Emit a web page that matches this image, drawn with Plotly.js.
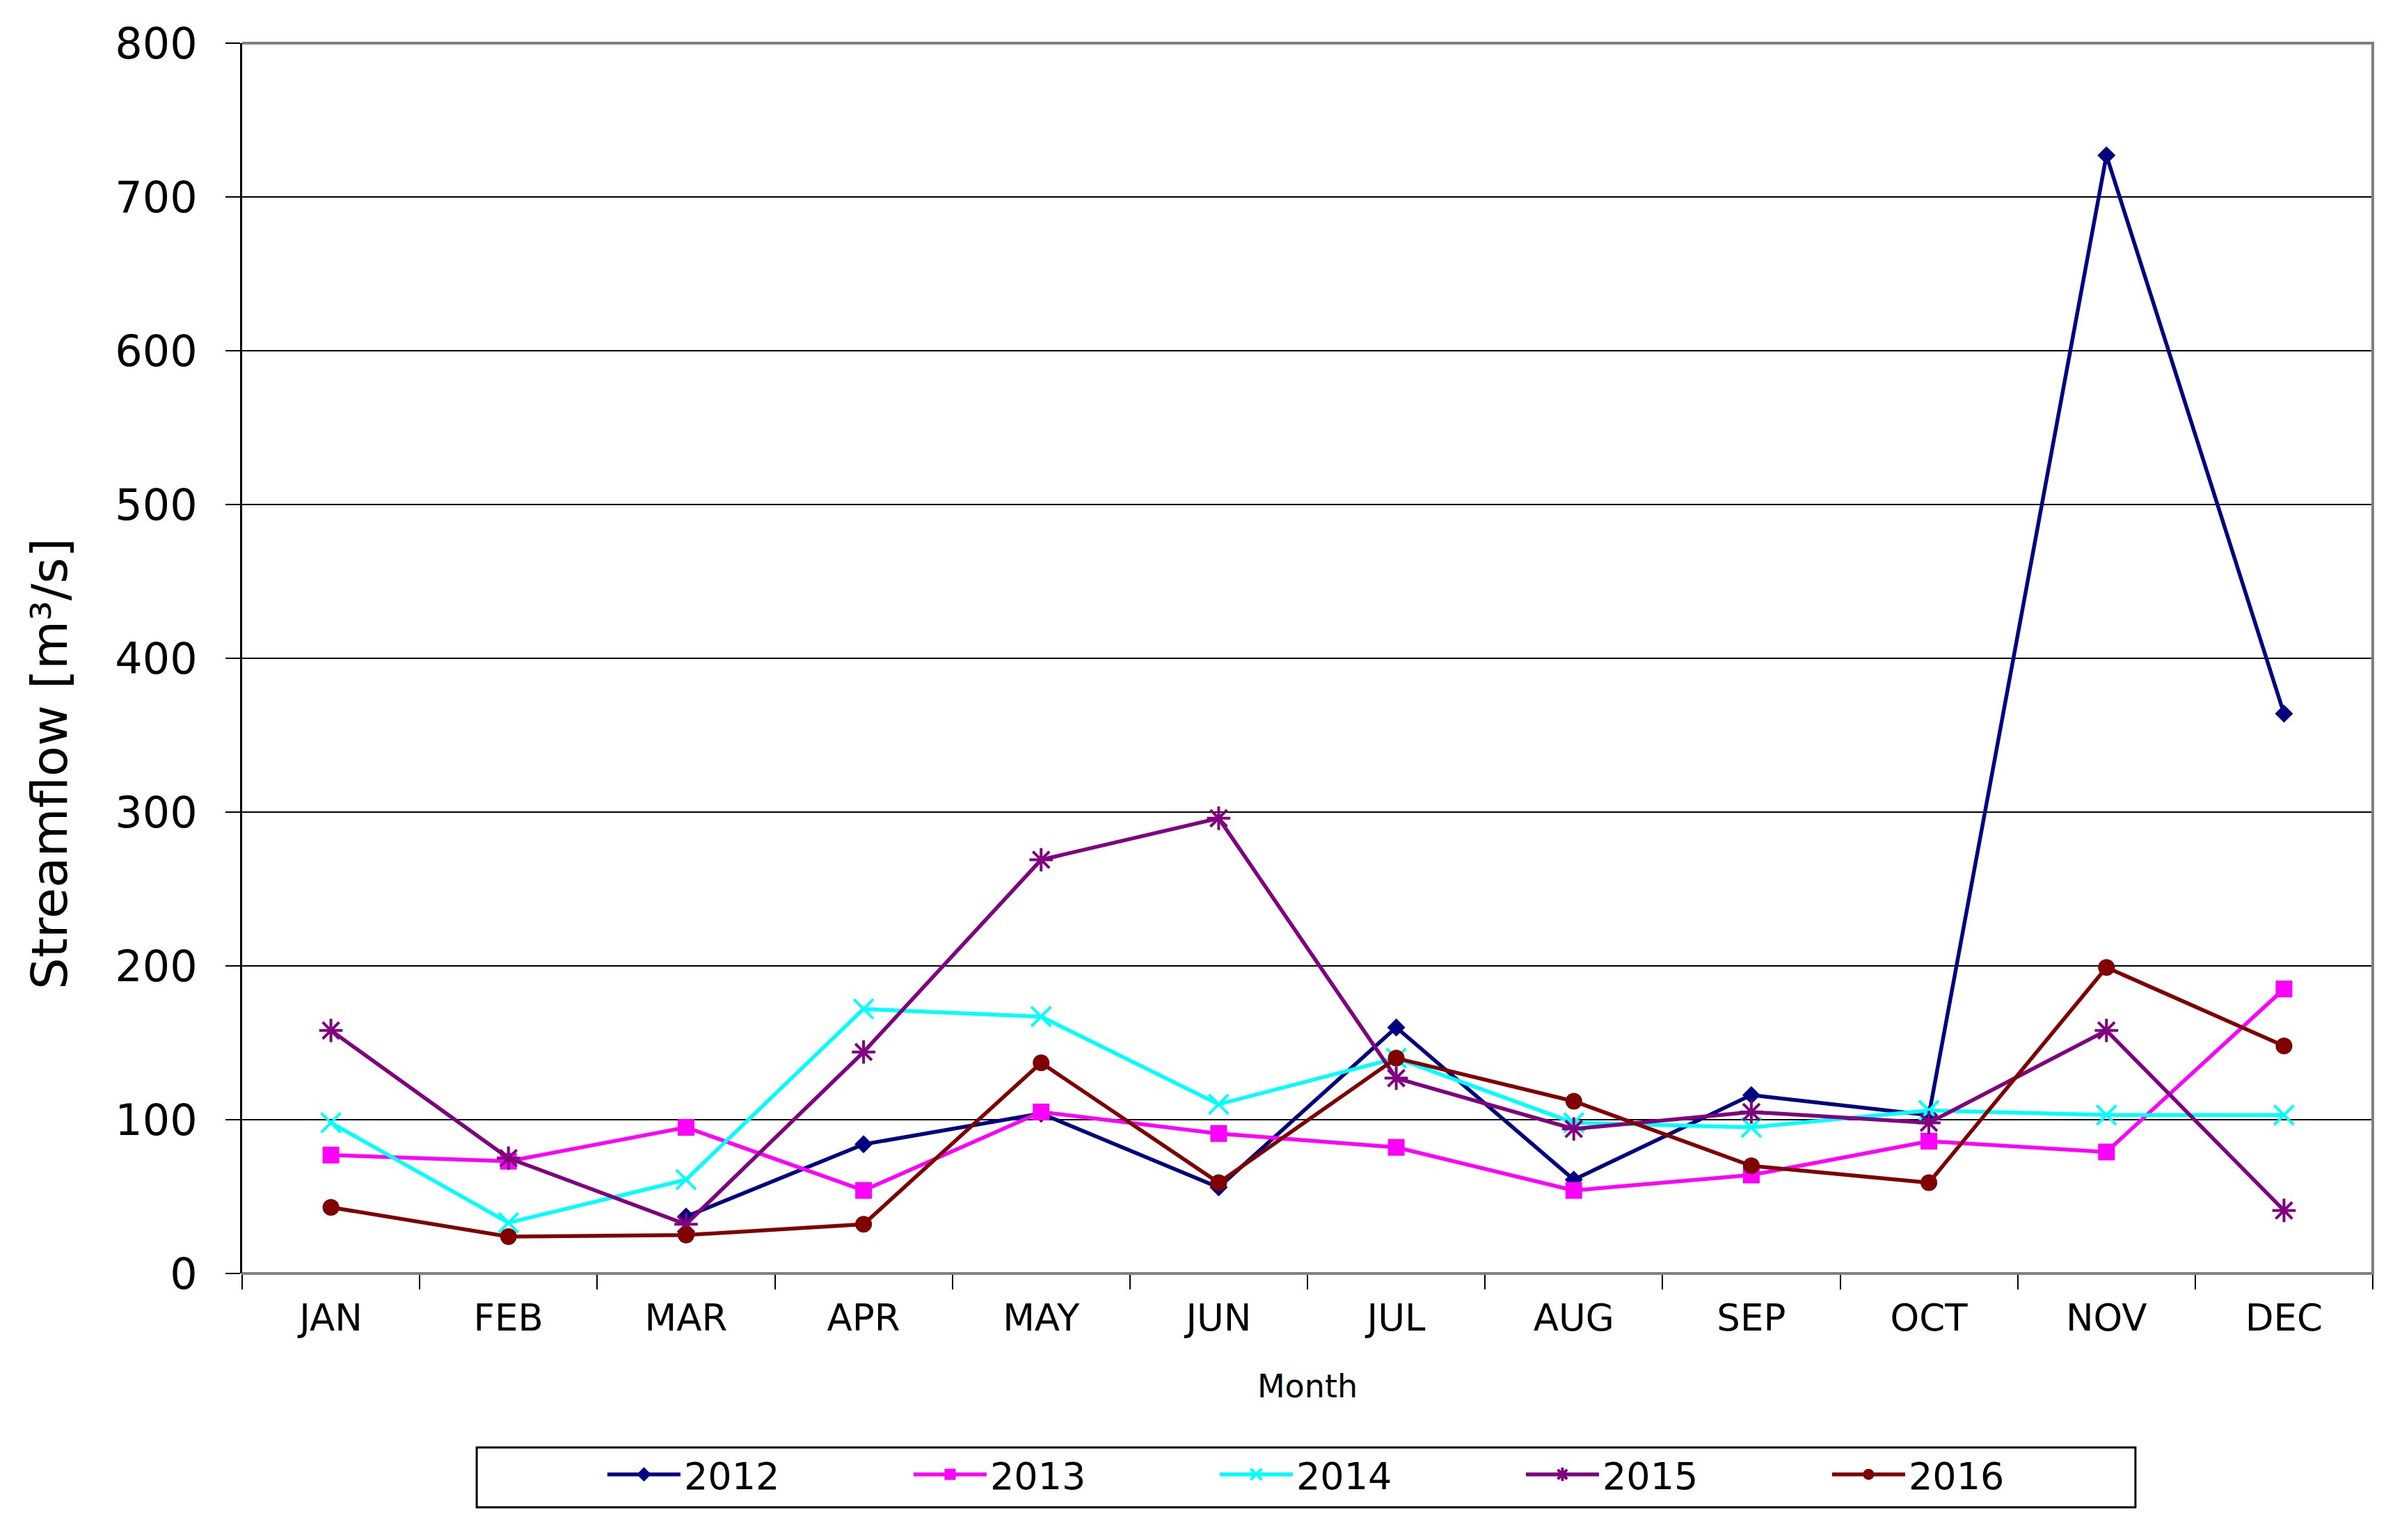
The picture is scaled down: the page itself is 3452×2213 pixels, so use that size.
<!DOCTYPE html>
<html>
<head>
<meta charset="utf-8">
<script src="https://cdn.plot.ly/plotly-3.0.1.min.js"></script>
<style>
  html, body { margin: 0; padding: 0; background: #ffffff; }
  #chart { width: 3452px; height: 2213px; }
</style>
</head>
<body>
<div id="chart"></div>
<script>
const months = ["JAN", "FEB", "MAR", "APR", "MAY", "JUN", "JUL", "AUG", "SEP", "OCT", "NOV", "DEC"];
const yTickValues = [0, 100, 200, 300, 400, 500, 600, 700, 800];

const flow2012 = [null, null, 37, 84, 104, 56, 160, 61, 116, 103, 727, 364];
const flow2013 = [77, 73, 95, 54, 105, 91, 82, 54, 64, 86, 79, 185];
const flow2014 = [98, 33, 61, 172, 167, 110, 140, 98, 95, 106, 103, 103];
const flow2015 = [158, 75, 32, 144, 269, 296, 127, 94, 105, 98, 158, 41];
const flow2016 = [43, 24, 25, 32, 137, 59, 140, 112, 70, 59, 199, 148];

const seriesNames = ["2012", "2013", "2014", "2015", "2016"];
const seriesData = [flow2012, flow2013, flow2014, flow2015, flow2016];
const seriesColors = ["#000080", "#FF00FF", "#00FFFF", "#800080", "#800000"];
const seriesSymbols = ["diamond", "square", "x-thin", "asterisk", "circle"];
const seriesSizes = [20, 24, 28, 28, 24];

const FONT = "DejaVu Sans, Verdana, sans-serif";

const traces = seriesNames.map((name, i) => {
  const thin = seriesSymbols[i] === "x-thin" || seriesSymbols[i] === "asterisk";
  return {
    type: "scatter",
    mode: "lines+markers",
    name: name,
    x: months,
    y: seriesData[i],
    connectgaps: false,
    line: { color: seriesColors[i], width: 5.5 },
    marker: {
      symbol: seriesSymbols[i],
      size: seriesSizes[i],
      color: seriesColors[i],
      line: { color: seriesColors[i], width: thin ? 4 : 0 }
    }
  };
});

const layout = {
  width: 3452,
  height: 2213,
  paper_bgcolor: "#ffffff",
  plot_bgcolor: "#ffffff",
  margin: { l: 348, r: 42, t: 62, b: 383, pad: 0 },
  font: { family: FONT, color: "#000000", size: 54 },
  showlegend: true,
  xaxis: {
    type: "category",
    categoryorder: "array",
    categoryarray: months,
    range: [-0.5, 11.5],
    tickson: "boundaries",
    ticks: "outside",
    ticklen: 22,
    tickwidth: 2,
    tickcolor: "#000000",
    showgrid: false,
    zeroline: false,
    showline: false,
    tickfont: { family: FONT, size: 53, color: "#000000" },
    ticklabelstandoff: 28,
    title: { text: "Month", font: { family: FONT, size: 46, color: "#000000" }, standoff: 52 },
    fixedrange: true
  },
  yaxis: {
    range: [0, 800],
    tickmode: "array",
    tickvals: yTickValues,
    ticktext: yTickValues.map(String),
    ticks: "outside",
    ticklen: 21,
    tickwidth: 2,
    tickcolor: "#000000",
    showgrid: true,
    gridcolor: "#000000",
    gridwidth: 2.5,
    zeroline: false,
    showline: true,
    linecolor: "#000000",
    linewidth: 3,
    tickfont: { family: FONT, size: 62, color: "#000000" },
    ticklabelstandoff: 28,
    fixedrange: true
  },
  shapes: [
    {
      type: "path",
      xref: "paper", yref: "paper",
      path: "M 0,0 L 1,0 L 1,1 L 0,1",
      line: { color: "#808080", width: 4 },
      layer: "above"
    },
    {
      type: "rect",
      xref: "paper", yref: "paper",
      x0: 0.1101, x1: 0.8886, y0: -0.190, y1: -0.1414,
      line: { color: "#000000", width: 3 },
      fillcolor: "rgba(0,0,0,0)",
      layer: "below"
    }
  ],
  annotations: [
    {
      text: "Streamflow [m³/s]",
      xref: "paper", yref: "paper",
      x: -0.0905, y: 0.4146,
      xanchor: "center", yanchor: "middle",
      textangle: -90,
      showarrow: false,
      font: { family: FONT, size: 72, color: "#000000" }
    }
  ],
  legend: {
    orientation: "h",
    x: 0.1698,
    xanchor: "left",
    y: -0.1635,
    yanchor: "middle",
    bgcolor: "rgba(0,0,0,0)",
    borderwidth: 0,
    font: { family: FONT, size: 54, color: "#000000" },
    itemwidth: 105,
    entrywidth: 320,
    entrywidthmode: "pixels",
    itemclick: false,
    itemdoubleclick: false
  }
};

Plotly.newPlot("chart", traces, layout, { displayModeBar: false, staticPlot: true });
</script>
</body>
</html>
